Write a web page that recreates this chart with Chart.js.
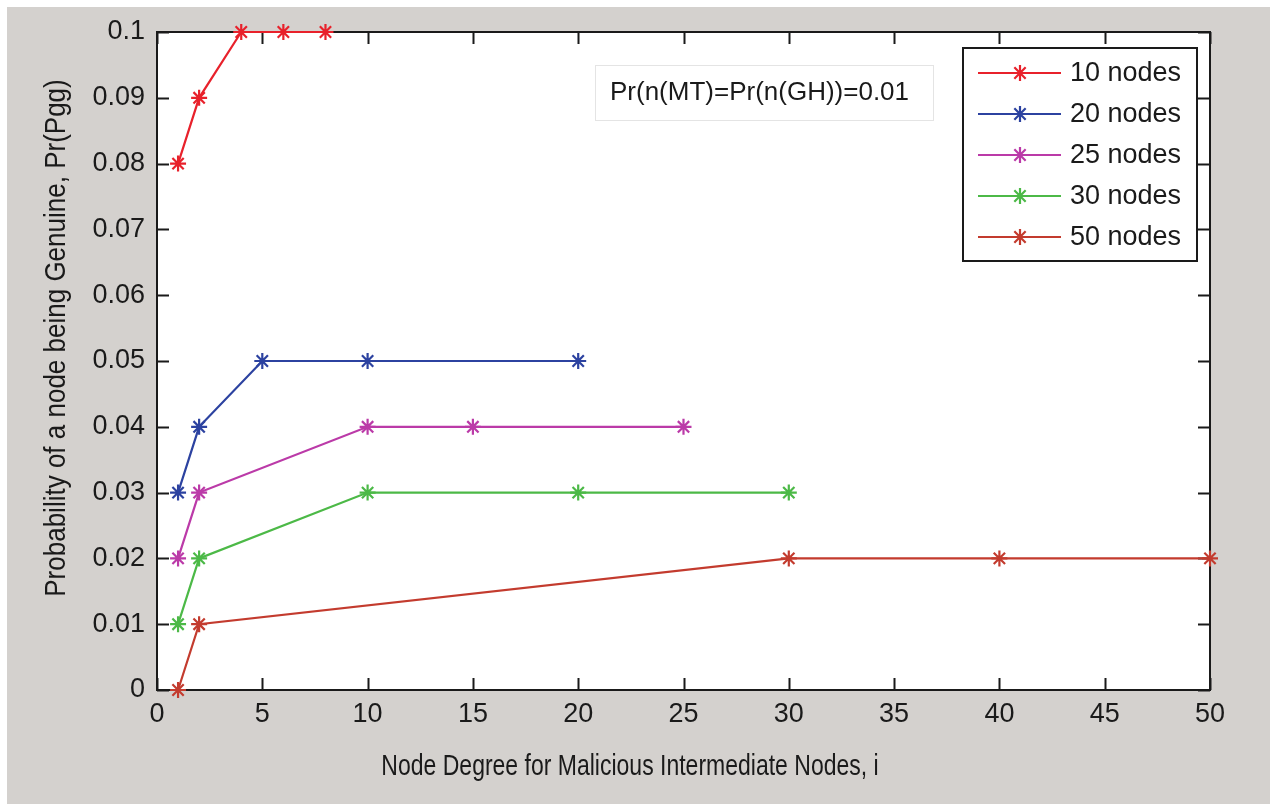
<!DOCTYPE html>
<html>
<head>
<meta charset="utf-8">
<title>Probability of a node being Genuine</title>
<script src="https://cdn.jsdelivr.net/npm/chart.js@4.4.1/dist/chart.umd.min.js"></script>
<style>
  html, body { margin: 0; padding: 0; background: #fff; }
  #wrap { width: 1270px; height: 804px; }
</style>
</head>
<body>
<div id="wrap"><canvas id="chart" width="1270" height="804"></canvas></div>
<script>
// ── DATA ────────────────────────────────────────
const seriesNames = ['10 nodes', '20 nodes', '25 nodes', '30 nodes', '50 nodes'];
const x10 = [1, 2, 4, 6, 8];
const y10 = [0.08, 0.09, 0.1, 0.1, 0.1];
const x20 = [1, 2, 5, 10, 20];
const y20 = [0.03, 0.04, 0.05, 0.05, 0.05];
const x25 = [1, 2, 10, 15, 25];
const y25 = [0.02, 0.03, 0.04, 0.04, 0.04];
const x30 = [1, 2, 10, 20, 30];
const y30 = [0.01, 0.02, 0.03, 0.03, 0.03];
const x50 = [1, 2, 30, 40, 50];
const y50 = [0, 0.01, 0.02, 0.02, 0.02];
const xTicks = [0, 5, 10, 15, 20, 25, 30, 35, 40, 45, 50];
const yTicks = [0, 0.01, 0.02, 0.03, 0.04, 0.05, 0.06, 0.07, 0.08, 0.09, 0.1];
const yTickLabels = ['0', '0.01', '0.02', '0.03', '0.04', '0.05', '0.06', '0.07', '0.08', '0.09', '0.1'];
const xTitle = 'Node Degree for Malicious Intermediate Nodes, i';
const yTitle = 'Probability of a node being Genuine, Pr(Pgg)';
const noteText = 'Pr(n(MT)=Pr(n(GH))=0.01';

// ── STYLE ───────────────────────────────────────
const colors = ['#e8212b', '#2c42a0', '#bb3aa8', '#4cb947', '#c33b2e'];
const FONT = "'Liberation Sans', Arial, sans-serif";
const INK  = '#1a1a1a';
const BG   = '#d4d1ce';

const pairs = (xs, ys) => xs.map((x, i) => ({ x, y: ys[i] }));
const allSeries = [pairs(x10, y10), pairs(x20, y20), pairs(x25, y25), pairs(x30, y30), pairs(x50, y50)];

const datasets = allSeries.map((pts, i) => ({
  label: seriesNames[i],
  data: pts,
  borderColor: colors[i],
  backgroundColor: colors[i],
  borderWidth: 2.2,
  pointStyle: 'star',
  pointRadius: 8,
  pointBorderWidth: 2.2,
  pointBorderColor: colors[i],
  tension: 0,
  clip: false
}));

// ── MATLAB-LIKE FRAME ───────────────────────────
const frame = {
  id: 'frame',
  beforeDraw(chart) {
    const { ctx, chartArea: a } = chart;
    ctx.save();
    ctx.fillStyle = '#fff';
    ctx.fillRect(0, 0, chart.width, chart.height);
    ctx.fillStyle = BG;
    ctx.fillRect(7, 7, chart.width - 7, chart.height - 7);
    ctx.fillStyle = '#fff';
    ctx.fillRect(a.left, a.top, a.right - a.left, a.bottom - a.top);
    ctx.restore();
  },
  beforeDatasetsDraw(chart) {
    const { ctx, chartArea: a, scales } = chart;
    const tl = 12;
    ctx.save();
    ctx.strokeStyle = INK;
    ctx.lineWidth = 2;
    ctx.beginPath();
    scales.x.ticks.forEach(t => {
      const px = Math.round(scales.x.getPixelForValue(t.value)) + 0.5;
      ctx.moveTo(px, a.bottom); ctx.lineTo(px, a.bottom - tl);
      ctx.moveTo(px, a.top);    ctx.lineTo(px, a.top + tl);
    });
    scales.y.ticks.forEach(t => {
      const py = Math.round(scales.y.getPixelForValue(t.value)) + 0.5;
      ctx.moveTo(a.left, py);  ctx.lineTo(a.left + tl, py);
      ctx.moveTo(a.right, py); ctx.lineTo(a.right - tl, py);
    });
    ctx.stroke();
    ctx.strokeRect(a.left, a.top, a.right - a.left, a.bottom - a.top);
    ctx.restore();
  },
  afterDraw(chart) {
    const { ctx } = chart;
    ctx.save();

    // axis titles (slightly tall glyphs, like the source)
    ctx.fillStyle = INK;
    ctx.textAlign = 'center';
    ctx.textBaseline = 'middle';
    ctx.save();
    ctx.translate(630, 767);
    ctx.scale(1, 1.28);
    ctx.font = `23px ${FONT}`;
    ctx.fillText(xTitle, 0, 0);
    ctx.restore();
    ctx.save();
    ctx.translate(57, 338);
    ctx.rotate(-Math.PI / 2);
    ctx.scale(1, 1.15);
    ctx.font = `26px ${FONT}`;
    ctx.fillText(yTitle, 0, 0);
    ctx.restore();

    // text note
    ctx.fillStyle = '#fff';
    ctx.fillRect(595, 65, 338, 55);
    ctx.strokeStyle = '#e4e4e4';
    ctx.lineWidth = 1;
    ctx.strokeRect(595.5, 65.5, 338, 55);
    ctx.fillStyle = INK;
    ctx.textAlign = 'left';
    ctx.font = `26px ${FONT}`;
    ctx.fillText(noteText, 610, 93);

    // legend
    const lx = 963, ly = 48, lw = 234, lh = 213;
    ctx.fillStyle = '#fff';
    ctx.fillRect(lx, ly, lw, lh);
    ctx.strokeStyle = INK;
    ctx.lineWidth = 2;
    ctx.strokeRect(lx, ly, lw, lh);
    chart.data.datasets.forEach((ds, i) => {
      const cy = 73 + i * 41;
      ctx.strokeStyle = ds.borderColor;
      ctx.fillStyle = ds.borderColor;
      ctx.lineWidth = 2.2;
      ctx.beginPath();
      ctx.moveTo(978, cy); ctx.lineTo(1061, cy);
      ctx.stroke();
      Chart.helpers.drawPoint(ctx, { pointStyle: 'star', radius: 8, borderWidth: 2.2 }, 1020, cy);
      ctx.fillStyle = INK;
      ctx.font = `27px ${FONT}`;
      ctx.fillText(ds.label, 1070, cy + 1);
    });
    ctx.restore();
  }
};

// ── CHART ───────────────────────────────────────
new Chart(document.getElementById('chart'), {
  type: 'line',
  data: { datasets },
  options: {
    responsive: false,
    animation: false,
    layout: { padding: { left: 0, top: 32, right: 60, bottom: 0 } },
    plugins: { legend: { display: false }, tooltip: { enabled: false } },
    scales: {
      x: {
        type: 'linear',
        min: 0, max: 50,
        afterFit: s => { s.height = 114; },
        afterBuildTicks: s => { s.ticks = xTicks.map(v => ({ value: v })); },
        grid: { display: false, drawTicks: false },
        border: { display: false },
        ticks: { color: INK, padding: 8, font: { family: FONT, size: 27 }, callback: v => String(v) }
      },
      y: {
        type: 'linear',
        min: 0, max: 0.1,
        afterFit: s => { s.width = 157; },
        afterBuildTicks: s => { s.ticks = yTicks.map(v => ({ value: v })); },
        grid: { display: false, drawTicks: false },
        border: { display: false },
        ticks: {
          color: INK, padding: 12, font: { family: FONT, size: 27 },
          callback: (v, i) => yTickLabels[i]
        }
      }
    }
  },
  plugins: [frame]
});
</script>
</body>
</html>
